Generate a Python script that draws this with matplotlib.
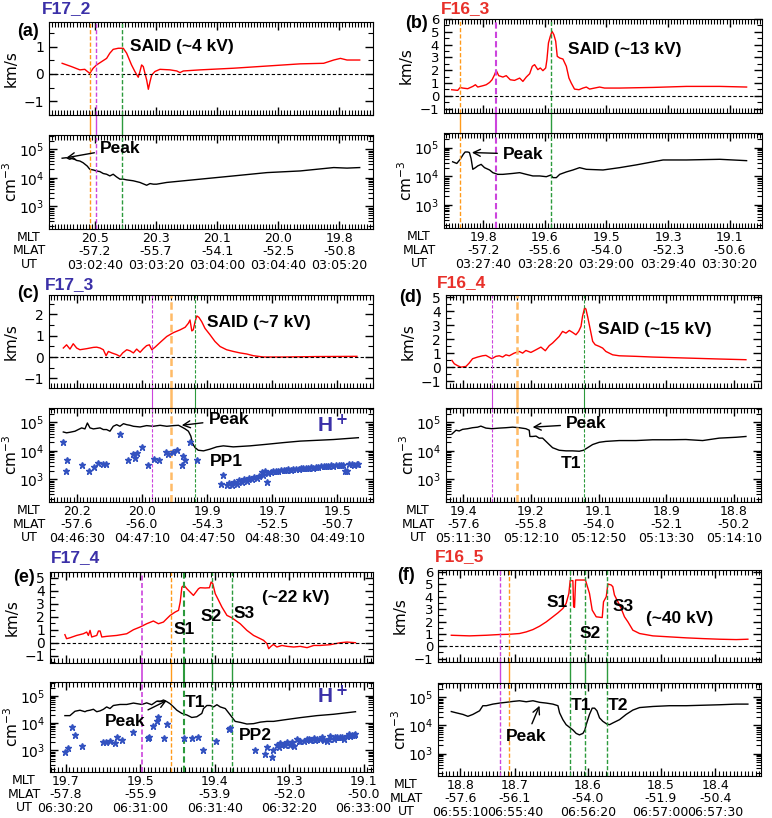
import matplotlib.pyplot as plt
from matplotlib.ticker import FixedLocator, MultipleLocator, LogLocator, NullFormatter

plt.rcParams['font.family'] = 'DejaVu Sans'
plt.rcParams['mathtext.default'] = 'regular'

# ---------------- data (time in s from first UT tick) ----------------
# (a) F17_2
a_tv = [-21.4, -15.3, -9.8, -6.6, -3.3, -1.1, 1.1, 3.3, 5.5, 7.7, 9.8, 12.0, 15.3, 18.6, 20.8, 24.0, 26.2, 28.4,
        29.5, 30.6, 31.7, 32.8, 33.9, 35.0, 36.1, 37.2, 39.3, 42.6, 49.2, 53.6, 55.7, 57.9, 68.9, 90.7, 112.6,
        134.4, 149.7, 156.3, 160.7, 165.0, 173.3]
a_v = [0.39, 0.27, 0.15, 0.17, 0.02, 0.21, 0.33, 0.41, 0.49, 0.57, 0.76, 0.90, 0.94, 0.94, 0.76, 0.33, 0.09, -0.12,
       0.09, 0.33, 0.27, 0.02, -0.22, -0.56, -0.28, -0.04, 0.09, 0.17, 0.15, 0.11, 0.05, 0.11, 0.15, 0.21, 0.29,
       0.37, 0.39, 0.51, 0.57, 0.51, 0.51]
a_tn = [-21.4, -18.6, -16.4, -14.2, -12.0, -9.8, -7.7, -5.0, -3.3, -1.1, 1.1, 3.3, 5.5, 7.7, 9.8, 12.0, 14.2, 16.4,
        18.6, 20.8, 25.1, 29.5, 33.9, 36.1, 38.3, 40.4, 47.0, 68.9, 90.7, 112.6, 134.4, 156.3, 165.0, 173.3]
a_n = [4.9e4, 5.1e4, 4.5e4, 5.1e4, 4.1e4, 3.9e4, 3.4e4, 2.6e4, 2.0e4, 1.9e4, 1.75e4, 1.66e4, 1.42e4, 1.34e4,
       1.17e4, 1.34e4, 1.08e4, 9.0e3, 9.0e3, 8.5e3, 7.9e3, 6.9e3, 5.5e3, 6.3e3, 6.0e3, 6.0e3, 6.9e3, 9.0e3,
       1.17e4, 1.53e4, 1.75e4, 2.3e4, 2.2e4, 2.3e4]
a_mlt = ['20.5', '20.3', '20.1', '20.0', '19.8']
a_mlat = ['-57.2', '-55.7', '-54.1', '-52.5', '-50.8']
a_ut = ['03:02:40', '03:03:20', '03:04:00', '03:04:40', '03:05:20']

# (b) F16_3
b_tv = [-20.4, -16.5, -14.9, -13.3, -10.0, -6.7, -5.0, -3.5, -0.2, 2.0, 4.2, 5.8, 7.4, 8.5, 10.1, 12.8, 15.0, 17.6,
        20.4, 23.7, 25.8, 28.0, 30.2, 31.9, 33.4, 35.5, 37.1, 38.8, 40.6, 41.4, 42.4, 43.6, 44.7, 45.9, 47.1, 48.1,
        49.7, 51.8, 54.0, 55.7, 57.2, 59.3, 62.2, 64.8, 67.0, 69.1, 72.3, 75.6, 78.8, 88.6, 110.3, 132.0, 153.6,
        171.0]
b_v = [0.47, 0.42, 0.65, 0.60, 0.55, 0.73, 0.86, 0.68, 0.78, 0.86, 1.04, 1.25, 1.64, 1.98, 1.57, 1.46, 1.57, 1.25,
       1.20, 1.38, 1.12, 1.46, 1.72, 2.30, 2.43, 2.04, 2.17, 1.96, 2.17, 2.82, 4.13, 4.65, 5.04, 4.78, 4.26, 3.08,
       2.95, 2.87, 2.30, 1.38, 0.99, 0.52, 0.47, 0.60, 0.68, 0.52, 0.60, 0.68, 0.60, 0.60, 0.65, 0.73, 0.73, 0.68]
b_tn = [-19.8, -17.1, -14.9, -12.8, -11.7, -10.0, -8.9, -7.8, -6.7, -5.0, -3.5, -1.3, 0.9, 4.2, 6.3, 9.5, 12.8, 19.3,
        23.7, 28.0, 32.3, 36.7, 41.0, 44.0, 45.3, 47.5, 49.7, 54.0, 58.3, 62.6, 67.0, 77.8, 88.6, 99.5, 110.3, 116.8,
        132.0, 153.6, 171.0]
b_n = [3.2e4, 2.8e4, 3.9e4, 5.9e4, 7.0e4, 7.0e4, 6.7e4, 4.1e4, 1.75e4, 2.0e4, 2.3e4, 2.6e4, 2.0e4, 1.66e4, 1.34e4,
       1.17e4, 1.17e4, 1.26e4, 1.34e4, 1.17e4, 1.03e4, 1.03e4, 9.7e3, 1.11e4, 9.0e3, 9.0e3, 1.17e4, 1.42e4, 1.66e4,
       2.0e4, 1.75e4, 1.66e4, 2.0e4, 2.5e4, 3.2e4, 3.7e4, 3.7e4, 3.9e4, 3.5e4]
b_mlt = ['19.8', '19.6', '19.5', '19.3', '19.1']
b_mlat = ['-57.2', '-55.6', '-54.0', '-52.3', '-50.6']
b_ut = ['03:27:40', '03:28:20', '03:29:00', '03:29:40', '03:30:20']

# (c) F17_3
c_tv = [-8.4, -6.4, -4.3, -2.3, -0.2, 1.8, 6.0, 10.1, 12.1, 14.2, 16.2, 17.9, 19.3, 21.4, 24.4, 26.4, 28.1, 30.6,
        32.6, 34.7, 36.7, 38.8, 40.8, 42.8, 44.5, 46.0, 48.0, 51.1, 55.2, 59.3, 63.4, 66.5, 68.5, 69.5, 70.6, 71.5,
        72.6, 73.7, 75.0, 76.7, 78.7, 81.8, 84.8, 88.0, 92.0, 96.1, 100.3, 104.4, 108.5, 114.6, 127.0, 147.5, 172.1]
c_v = [0.42, 0.57, 0.37, 0.62, 0.42, 0.34, 0.39, 0.45, 0.46, 0.42, 0.34, 0.06, 0.26, 0.19, 0.11, 0.03, 0.19, 0.34,
       0.29, 0.19, 0.37, 0.22, 0.39, 0.53, 0.57, 0.34, 0.46, 0.68, 0.96, 1.14, 1.27, 1.39, 1.58, 1.73, 1.22, 1.27,
       1.65, 1.92, 1.85, 1.65, 1.34, 1.04, 0.73, 0.49, 0.34, 0.26, 0.19, 0.14, 0.06, 0.0, 0.0, 0.02, 0.03]
c_tn = [-8.4, -6.4, -4.3, -1.2, 0.8, 2.9, 4.9, 6.4, 8.0, 10.1, 14.2, 16.2, 18.2, 20.3, 22.3, 24.4, 26.4, 28.6, 30.6,
        32.6, 34.7, 38.8, 42.8, 46.9, 51.1, 55.2, 59.3, 62.4, 64.4, 66.5, 68.5, 70.0, 71.1, 72.6, 74.6, 77.8, 81.8,
        85.9, 90.0, 96.1, 106.4, 116.6, 127.0, 137.2, 157.7, 173.0]
c_n = [4.6e4, 4.3e4, 4.5e4, 4.9e4, 5.6e4, 6.4e4, 5.9e4, 9.5e4, 6.4e4, 5.9e4, 6.4e4, 5.6e4, 5.6e4, 4.9e4, 7.3e4,
       8.3e4, 7.3e4, 9.0e4, 8.3e4, 7.9e4, 7.3e4, 6.9e4, 7.7e4, 7.3e4, 7.9e4, 7.3e4, 7.7e4, 7.9e4, 6.9e4, 5.9e4,
       4.9e4, 3.3e4, 1.8e4, 1.3e4, 1.05e4, 1.0e4, 1.15e4, 1.38e4, 1.5e4, 1.38e4, 1.5e4, 1.7e4, 1.95e4, 2.2e4,
       2.5e4, 2.9e4]
c_th = [-8.4, -6.9, -6.4, 2.9, 7.5, 10.7, 12.7, 16.2, 17.9, 26.4, 31.6, 34.3, 35.6, 36.7, 39.8, 43.9, 47.4, 50.6,
        54.7, 56.2, 58.9, 61.3, 64.4, 65.0, 66.5, 69.5, 73.7, 88.4, 89.6,
        92.0, 93.7, 95.2, 96.6, 98.3, 99.8, 101.3, 102.7, 104.4, 106.0, 107.4, 108.9, 110.5, 112.2, 113.6, 114.6,
        115.7, 116.6, 117.7, 119.2, 120.7, 122.4, 123.8, 125.3, 127.0, 128.6, 130.0, 131.4, 133.1, 134.7, 136.2,
        137.6, 139.2, 140.9, 142.3, 143.8, 145.4, 147.0, 148.4, 149.9, 151.6, 153.2, 154.6, 156.0, 157.7, 159.3,
        160.8, 162.2, 163.8, 164.9, 166.3, 167.5, 169.0, 170.4, 172.1, 173.0]
c_h = [2.0e4, 2.0e3, 4.8e3, 3.2e3, 2.0e3, 2.8e3, 3.7e3, 3.5e3, 3.5e3, 4.0e4, 4.8e3, 7.7e3, 5.5e3, 8.1e3, 1.4e4,
       3.2e3, 5.2e3, 4.9e3, 8.9e3, 7.7e3, 8.9e3, 1.08e4, 3.2e3, 6.8e3, 4.9e3, 2.0e4, 4.9e3, 660, 1450,
       621, 767, 655, 809, 709, 925, 809, 1000, 900, 1110, 1000, 1200, 1110, 1300, 1790, 1450, 2040, 809, 1700,
       1790, 1890, 1990, 1990, 2150, 2100, 2210, 2330, 2210, 2330, 2390, 2330, 2520, 2460, 2590, 2460, 2660, 2590,
       2810, 2730, 2880, 3040, 2880, 3040, 3210, 3040, 3210, 3290, 3120, 3210, 2040, 2040, 3380, 3470, 3290, 3470,
       3560]
c_mlt = ['20.2', '20.0', '19.9', '19.7', '19.5']
c_mlat = ['-57.6', '-56.0', '-54.3', '-52.5', '-50.7']
c_ut = ['04:46:30', '04:47:10', '04:47:50', '04:48:30', '04:49:10']

# (d) F16_4
d_tv = [-6.7, -5.3, -3.3, -1.4, 1.6, 3.5, 5.5, 8.5, 11.4, 13.4, 16.9, 19.3, 21.3, 23.3, 25.2, 27.2, 30.1, 33.1, 35.1,
        37.0, 40.0, 43.0, 45.9, 48.5, 50.8, 52.8, 54.8, 56.7, 58.7, 60.7, 62.7, 64.6, 66.6, 68.2, 69.6, 70.5, 71.7,
        72.5, 73.5, 74.9, 76.5, 78.0, 80.4, 82.4, 84.3, 88.3, 92.2, 102.1, 111.9, 131.6, 151.3, 167.1]
d_v = [0.50, 0.26, 0.12, 0.02, 0.07, 0.31, 0.62, 0.74, 0.83, 0.86, 0.62, 0.79, 0.83, 0.74, 0.90, 0.83, 1.02, 1.14,
       1.02, 1.21, 1.07, 1.26, 1.45, 1.19, 1.55, 1.74, 1.98, 2.21, 2.57, 2.45, 2.64, 2.50, 2.33, 2.57, 2.93, 3.64,
       4.24, 4.17, 3.64, 2.81, 1.86, 1.62, 1.50, 1.38, 1.14, 0.90, 0.83, 0.79, 0.74, 0.67, 0.60, 0.55]
d_tn = [-6.7, -4.3, -2.4, -0.4, 2.6, 5.5, 8.5, 10.4, 13.4, 16.9, 21.3, 25.2, 29.2, 33.1, 37.0, 39.0, 39.4, 41.0, 43.0,
        44.9, 46.9, 48.9, 50.8, 52.8, 56.7, 60.7, 64.6, 68.6, 71.1, 73.5, 76.5, 80.4, 84.3, 92.2, 102.1, 111.9, 121.8,
        131.6, 141.5, 151.3, 161.2, 167.1]
d_n = [3.9e4, 5.3e4, 5.0e4, 5.7e4, 6.0e4, 6.5e4, 6.8e4, 7.4e4, 6.3e4, 6.0e4, 6.3e4, 6.5e4, 6.8e4, 6.5e4, 6.0e4,
       5.3e4, 3.2e4, 3.2e4, 3.3e4, 2.8e4, 2.8e4, 2.15e4, 1.67e4, 1.29e4, 1.05e4, 1.0e4, 1.0e4, 9.7e3, 1.05e4, 1.29e4,
       1.67e4, 2.0e4, 2.15e4, 2.3e4, 2.3e4, 2.45e4, 2.45e4, 2.5e4, 2.3e4, 2.8e4, 3.0e4, 3.2e4]
d_mlt = ['19.4', '19.2', '19.1', '18.9', '18.8']
d_mlat = ['-57.6', '-55.8', '-54.0', '-52.1', '-50.2']
d_ut = ['05:11:30', '05:12:10', '05:12:50', '05:13:30', '05:14:10']

# (e) F17_4
e_tv = [-0.4, 0.5, 2.3, 5.9, 9.5, 11.3, 12.2, 13.1, 14.0, 16.7, 17.6, 18.5, 19.4, 22.0, 27.4, 32.8, 36.4, 40.0, 43.5,
        47.1, 49.8, 52.5, 54.3, 56.1, 58.8, 60.6, 61.5, 62.4, 63.6, 65.1, 66.8, 68.6, 71.3, 72.2, 74.9, 77.2, 78.1,
        79.0, 80.3, 82.1, 83.9, 86.6, 89.2, 93.7, 97.3, 100.9, 104.5, 106.3, 108.1, 109.0, 110.2, 111.6, 113.4,
        116.1, 118.8, 122.4, 126.0, 129.6, 133.2, 136.7, 142.1, 147.5, 151.1, 155.6]
e_v = [0.62, 0.31, 0.38, 0.56, 0.69, 0.82, 0.56, 0.95, 0.44, 0.56, 0.90, 0.90, 0.44, 0.49, 0.56, 0.69, 1.0, 1.21,
       1.46, 1.67, 1.46, 1.59, 1.85, 2.10, 2.36, 2.49, 3.13, 4.28, 4.41, 4.15, 3.90, 3.64, 4.15, 4.23, 4.21, 4.23,
       4.67, 4.54, 3.77, 3.26, 2.74, 2.10, 1.92, 1.46, 0.95, 0.56, 0.31, 0.18, -0.08, -0.46, -0.28, -0.13, -0.33,
       -0.21, -0.28, -0.33, -0.28, -0.38, -0.21, -0.21, -0.15, 0.0, 0.05, 0.0]
e_tn = [-0.4, 2.3, 5.0, 7.7, 10.4, 11.3, 13.1, 14.9, 16.7, 18.5, 20.3, 22.0, 23.8, 25.6, 29.2, 32.8, 36.4, 40.9, 43.5,
        46.2, 48.9, 50.7, 52.5, 54.3, 56.1, 57.9, 59.7, 62.4, 65.1, 67.7, 70.4, 73.1, 74.0, 75.8, 77.6, 79.4, 81.2,
        83.0, 85.7, 88.4, 91.0, 93.7, 97.3, 100.9, 104.5, 108.1, 111.6, 117.0, 126.0, 134.9, 143.9, 155.6]
e_n = [1.87e4, 1.87e4, 2.7e4, 2.95e4, 2.6e4, 2.8e4, 2.95e4, 3.2e4, 2.6e4, 2.8e4, 3.2e4, 3.9e4, 3.4e4, 4.4e4, 4.8e4,
       4.8e4, 5.4e4, 4.8e4, 5.5e4, 4.7e4, 6.3e4, 6.1e4, 7.0e4, 6.1e4, 5.1e4, 3.9e4, 2.95e4, 2.25e4, 1.97e4, 1.6e4,
       1.7e4, 2.25e4, 3.4e4, 4.4e4, 4.4e4, 3.9e4, 4.7e4, 3.9e4, 3.4e4, 1.97e4, 1.15e4, 1.06e4, 9.2e3, 9.5e3, 1.08e4,
       1.15e4, 1.15e4, 1.3e4, 1.58e4, 1.87e4, 2.1e4, 2.6e4]
e_th = [-0.4, 1.4, 3.2, 5.0, 8.6, 20.3, 21.7, 23.8, 26.5, 27.4, 30.1, 36.4, 44.4, 45.0, 47.1, 48.9, 49.8, 52.9, 54.3,
        63.6, 67.7, 70.8, 73.7, 80.8, 87.5, 88.4, 101.8, 107.2, 108.1, 110.8, 111.3,
        113.4, 114.3, 115.2, 117.0, 117.9, 118.8, 120.6, 121.5, 122.4, 124.2, 125.1, 126.0, 127.8, 129.6, 130.5,
        131.3, 133.2, 134.0, 134.9, 136.7, 137.6, 138.5, 140.3, 141.2, 142.1, 143.9, 144.8, 145.7, 147.5, 148.4,
        149.3, 151.1, 152.0, 152.9, 153.8, 154.7, 155.6]
e_h = [870, 1240, 7.0e3, 3.7e3, 1380, 2040, 2040, 2150, 1820, 3.2e3, 2.4e3, 4.8e3, 2.8e3, 2.95e3, 7.6e3, 1.2e4,
       1.7e4, 2.8e3, 9.5e3, 2.8e3, 2.8e3, 2.95e3, 1000, 2150, 6.3e3, 6.6e3, 1000, 720, 1310, 550, 1000,
       1510, 1310, 1820, 1730, 1510, 1960, 1510, 1960, 1380, 2.6e3, 2250, 2150, 2250, 2.6e3, 2.7e3, 2.4e3, 2.8e3,
       2.4e3, 2.6e3, 2.55e3, 2.95e3, 2.4e3, 2.25e3, 2.65e3, 3.4e3, 2.6e3, 3.1e3, 2.95e3, 3.1e3, 2.95e3, 2.6e3,
       3.3e3, 3.9e3, 3.4e3, 3.5e3, 3.7e3, 4.1e3]
e_mlt = ['19.7', '19.5', '19.4', '19.3', '19.1']
e_mlat = ['-57.8', '-55.9', '-53.9', '-52.0', '-50.0']
e_ut = ['06:30:20', '06:31:00', '06:31:40', '06:32:20', '06:33:00']

# (f) F16_5
f_tv = [-4.9, 5.1, 14.3, 21.6, 27.1, 32.5, 36.2, 39.9, 43.5, 47.2, 50.8, 53.6, 56.3, 58.1, 59.6, 60.3, 61.8, 62.2,
        62.7, 63.3, 65.4, 68.7, 69.5, 70.9, 72.4, 74.6, 77.9, 78.6, 80.1, 81.0, 82.8, 83.7, 84.6, 86.5, 88.3, 90.1,
        92.0, 94.7, 98.4, 105.7, 114.8, 124.0, 133.1, 142.2, 151.4, 157.8]
f_v = [0.89, 0.84, 0.89, 0.95, 0.97, 1.03, 1.16, 1.35, 1.62, 1.97, 2.38, 2.70, 3.05, 3.46, 4.27, 5.30, 5.30, 3.19,
       3.14, 5.35, 5.35, 5.35, 4.95, 4.27, 2.92, 2.38, 2.32, 3.59, 4.0, 5.03, 4.95, 4.81, 4.14, 3.59, 3.05, 2.38,
       1.97, 1.30, 1.03, 0.84, 0.76, 0.68, 0.62, 0.57, 0.54, 0.57]
f_tn = [-4.9, -2.2, 1.5, 4.2, 6.9, 10.6, 12.4, 14.3, 17.9, 21.6, 25.2, 28.9, 32.5, 36.2, 39.9, 43.5, 47.2, 50.8, 53.6,
        54.5, 56.3, 58.1, 60.0, 61.8, 63.6, 65.4, 67.3, 68.4, 69.1, 70.9, 72.4, 73.7, 75.0, 76.4, 78.2, 80.4, 81.9,
        83.7, 87.4, 91.0, 94.7, 98.4, 105.7, 114.8, 124.0, 133.1, 142.2, 151.4, 157.8]
f_n = [3.1e4, 2.8e4, 2.45e4, 2.1e4, 2.45e4, 3.3e4, 5.0e4, 5.0e4, 5.7e4, 6.2e4, 6.6e4, 7.1e4, 7.5e4, 6.9e4, 7.5e4,
       6.6e4, 6.2e4, 5.7e4, 5.0e4, 2.8e4, 1.6e4, 1.06e4, 8.5e3, 6.9e3, 5.2e3, 4.6e3, 5.2e3, 6.9e3, 1.06e4, 2.45e4,
       4.1e4, 4.1e4, 3.3e4, 1.86e4, 1.4e4, 1.12e4, 1.06e4, 1.22e4, 1.6e4, 2.45e4, 3.5e4, 4.3e4, 4.7e4, 5.0e4, 5.0e4,
       5.2e4, 5.4e4, 5.7e4, 5.7e4]
f_mlt = ['18.8', '18.7', '18.6', '18.5', '18.4']
f_mlat = ['-57.6', '-56.1', '-54.0', '-51.9', '-50.4']
f_ut = ['06:55:10', '06:55:40', '06:56:20', '06:57:00', '06:57:30']

# ---------------- styling ----------------
W, H = 772, 818
BLUE = '#3b30a8'
RED = '#e8302a'
STAR = '#3352c0'
OR, OR2, MA, GR = '#ff9a1a', '#ffbb66', '#cc44dd', '#2c9a3c'
BOLD = dict(family='Liberation Sans', fontweight='bold')

fig = plt.figure(figsize=(W / 100, H / 100), dpi=100)


def box(l, t, r, b):
    return [l / W, 1 - b / H, (r - l) / W, (b - t) / H]


def frame(ax, xlim, ticks):
    ax.set_xlim(xlim)
    ax.xaxis.set_major_locator(FixedLocator(ticks))
    ax.xaxis.set_minor_locator(MultipleLocator(2))
    ax.tick_params(which='both', direction='in', top=True, right=True, labelsize=10)
    ax.tick_params(which='major', length=6, width=1)
    ax.tick_params(which='minor', length=3.5, width=0.8)


def panel(pv, pn, tv, v, tn, n, xlim, vlim, vticks, ticks, mlt, mlat, ut, lines, rowx):
    axv = fig.add_axes(box(*pv))
    axn = fig.add_axes(box(*pn))
    frame(axv, xlim, ticks)
    frame(axn, xlim, ticks)
    axv.plot(tv, v, color='red', lw=1)
    axv.axhline(0, color='k', ls='--', lw=0.8, dashes=(3, 2))
    axv.set_ylim(vlim)
    axv.set_yticks(vticks)
    axv.yaxis.set_minor_locator(MultipleLocator(0.5))
    axv.set_xticklabels([])
    if len(vticks) > 7:
        axv.tick_params(axis='y', labelsize=9.5)
    axn.plot(tn, n, color='k', lw=1)
    axn.set_yscale('log')
    axn.set_ylim(160, 3.2e5)
    axn.yaxis.set_major_locator(LogLocator(base=10, numticks=5))
    axn.yaxis.set_minor_locator(LogLocator(base=10, subs=range(2, 10), numticks=10))
    axn.yaxis.set_minor_formatter(NullFormatter())
    axn.set_xticklabels([f'{a}\n{b}\n{c}' for a, b, c in zip(mlt, mlat, ut)],
                        fontsize=9, linespacing=1.05)
    axn.tick_params(axis='x', pad=2)
    gap = (pn[1] - pv[3]) / (pv[3] - pv[1])
    for x, c, w in lines:
        axv.axvline(x, color=c, ls='--', lw=w, dashes=(3, 1.5))
        axv.axvline(x, ymin=-gap, ymax=0, color=c, lw=w, clip_on=False)
        axn.axvline(x, color=c, ls='--', lw=w, dashes=(3, 1.5))
    fig.text(rowx / W, 1 - (pn[3] + 2) / H, 'MLT\nMLAT\nUT', ha='center', va='top',
             fontsize=9, linespacing=1.05)
    ylx = pv[0] - 38
    fig.text(ylx / W, 1 - (pv[1] + pv[3]) / 2 / H, 'km/s', rotation=90, ha='center', va='center', fontsize=11)
    fig.text(ylx / W, 1 - (pn[1] + pn[3]) / 2 / H, 'cm$^{-3}$', rotation=90, ha='center', va='center', fontsize=11)
    return axv, axn


def tag(x, y, s, color='k', size=13):
    fig.text(x / W, 1 - y / H, s, color=color, ha='center', va='center', fontsize=size, **BOLD)


def note(ax, x, y, s, ha='left', color='k', size=12.5):
    ax.text(x, y, s, ha=ha, va='center', fontsize=size, color=color, **BOLD)


def peak(ax, xy, xytext, ha='left'):
    ax.annotate('Peak', xy=xy, xytext=xytext, ha=ha, va='center', fontsize=12.5, **BOLD,
                arrowprops=dict(arrowstyle='->', color='k', lw=1, shrinkA=2, shrinkB=0))


ticks = [0, 40, 80, 120, 160]

# (a)
av, an = panel((49, 22, 373, 115), (49, 135, 373, 229), a_tv, a_v, a_tn, a_n, (-30, 182), (-1.5, 1.9),
               [-1, 0, 1], ticks, a_mlt, a_mlat, a_ut,
               [(-3.3, OR, 1), (0.9, MA, 1), (17.9, GR, 1)], 29)
note(av, 23, 1.0, 'SAID (~4 kV)')
peak(an, (-18.6, 5.1e4), (3.3, 1.1e5))
tag(28, 32, '(a)')
tag(67, 9, 'F17_2', BLUE, 12.5)

# (b)
bv, bn = panel((444, 19, 762, 113), (444, 133, 762, 228), b_tv, b_v, b_tn, b_n, (-25.4, 181), (-1.35, 6.0),
               list(range(-1, 7)), ticks, b_mlt, b_mlat, b_ut,
               [(-14.9, OR, 1), (8.4, MA, 1.5), (44.2, GR, 1)], 419)
note(bv, 55.1, 3.6, 'SAID (~13 kV)')
peak(bn, (-7.3, 6.7e4), (12.8, 5.9e4))
tag(417, 23, '(b)')
tag(466, 9, 'F16_3', RED, 12.5)

# (c)
cv, cn = panel((49, 295, 373, 388), (49, 408, 373, 502), c_tv, c_v, c_tn, c_n, (-17.2, 182), (-1.45, 2.9),
               [-1, 0, 1, 2], ticks, c_mlt, c_mlat, c_ut,
               [(46.2, MA, 0.8), (57.8, OR2, 1.8), (72.6, GR, 0.8)], 29)
cn.plot(c_th, c_h, ls='none', marker='*', ms=4.5, color=STAR, mec=STAR)
note(cv, 79.8, 1.61, 'SAID (~7 kV)')
peak(cn, (64.4, 7.9e4), (80.8, 1.24e5))
note(cn, 81.8, 4.2e3, 'PP1')
note(cn, 147.5, 8.3e4, 'H$^{\\bf +}$', color=BLUE, size=15)
tag(28, 293, '(c)')
tag(69, 285, 'F17_3', BLUE, 12.5)

# (d)
dv, dn = panel((446, 295, 761, 388), (446, 408, 761, 502), d_tv, d_v, d_tn, d_n, (-10.2, 176), (-1.47, 5.17),
               list(range(-1, 6)), ticks, d_mlt, d_mlat, d_ut,
               [(16.9, MA, 0.8), (31.7, OR2, 1.8), (71.1, GR, 0.8)], 418)
note(dv, 79.4, 2.69, 'SAID (~15 kV)')
peak(dn, (41.0, 6.8e4), (60.7, 8.8e4))
note(dn, 57.7, 3.6e3, 'T1')
tag(410, 298, '(d)')
tag(462, 283, 'F16_4', RED, 12.5)

# (e)
ev, en = panel((50, 572, 373, 663), (50, 682, 373, 772), e_tv, e_v, e_tn, e_n, (-8.4, 165), (-1.56, 5.44),
               list(range(-1, 6)), ticks, e_mlt, e_mlat, e_ut,
               [(40.9, MA, 1.2), (56.8, OR, 1), (63.8, GR, 1.5), (78.3, GR, 1), (89.2, GR, 1)], 24)
en.plot(e_th, e_h, ls='none', marker='*', ms=4.5, color=STAR, mec=STAR)
note(ev, 105.4, 3.51, '(~22 kV)')
note(ev, 57.9, 1.0, 'S1')
note(ev, 72.2, 2.03, 'S2')
note(ev, 90.1, 2.28, 'S3')
note(en, 64.2, 5.8e4, 'T1')
note(en, 92.8, 3.4e3, 'PP2')
note(en, 134.9, 1.0e5, 'H$^{\\bf +}$', color=BLUE, size=15)
peak(en, (54.3, 6.7e4), (42.7, 1.15e4), ha='right')
tag(24, 577, '(e)')
tag(76, 558, 'F17_4', BLUE, 12.5)

# (f)
fv, fn = panel((438, 570, 761, 662), (438, 683, 761, 776), f_tv, f_v, f_tn, f_n, (-12.2, 165), (-1.27, 6.16),
               list(range(-1, 7)), [0, 30, 70, 110, 140], f_mlt, f_mlat, f_ut,
               [(21.6, MA, 1), (27.0, OR, 1), (60.0, GR, 1), (68.7, GR, 1), (80.4, GR, 1)], 406)
note(fv, 102, 2.24, '(~40 kV)')
note(fv, 47.2, 3.51, 'S1')
note(fv, 65.4, 1.03, 'S2')
note(fv, 83.7, 3.19, 'S3')
note(fn, 60.9, 5.0e4, 'T1')
note(fn, 81.0, 5.0e4, 'T2')
peak(fn, (43.5, 5.0e4), (25.2, 4.0e3))
tag(406, 575, '(f)')
tag(460, 557, 'F16_5', RED, 12.5)

fig.savefig('out.png', dpi=100)
